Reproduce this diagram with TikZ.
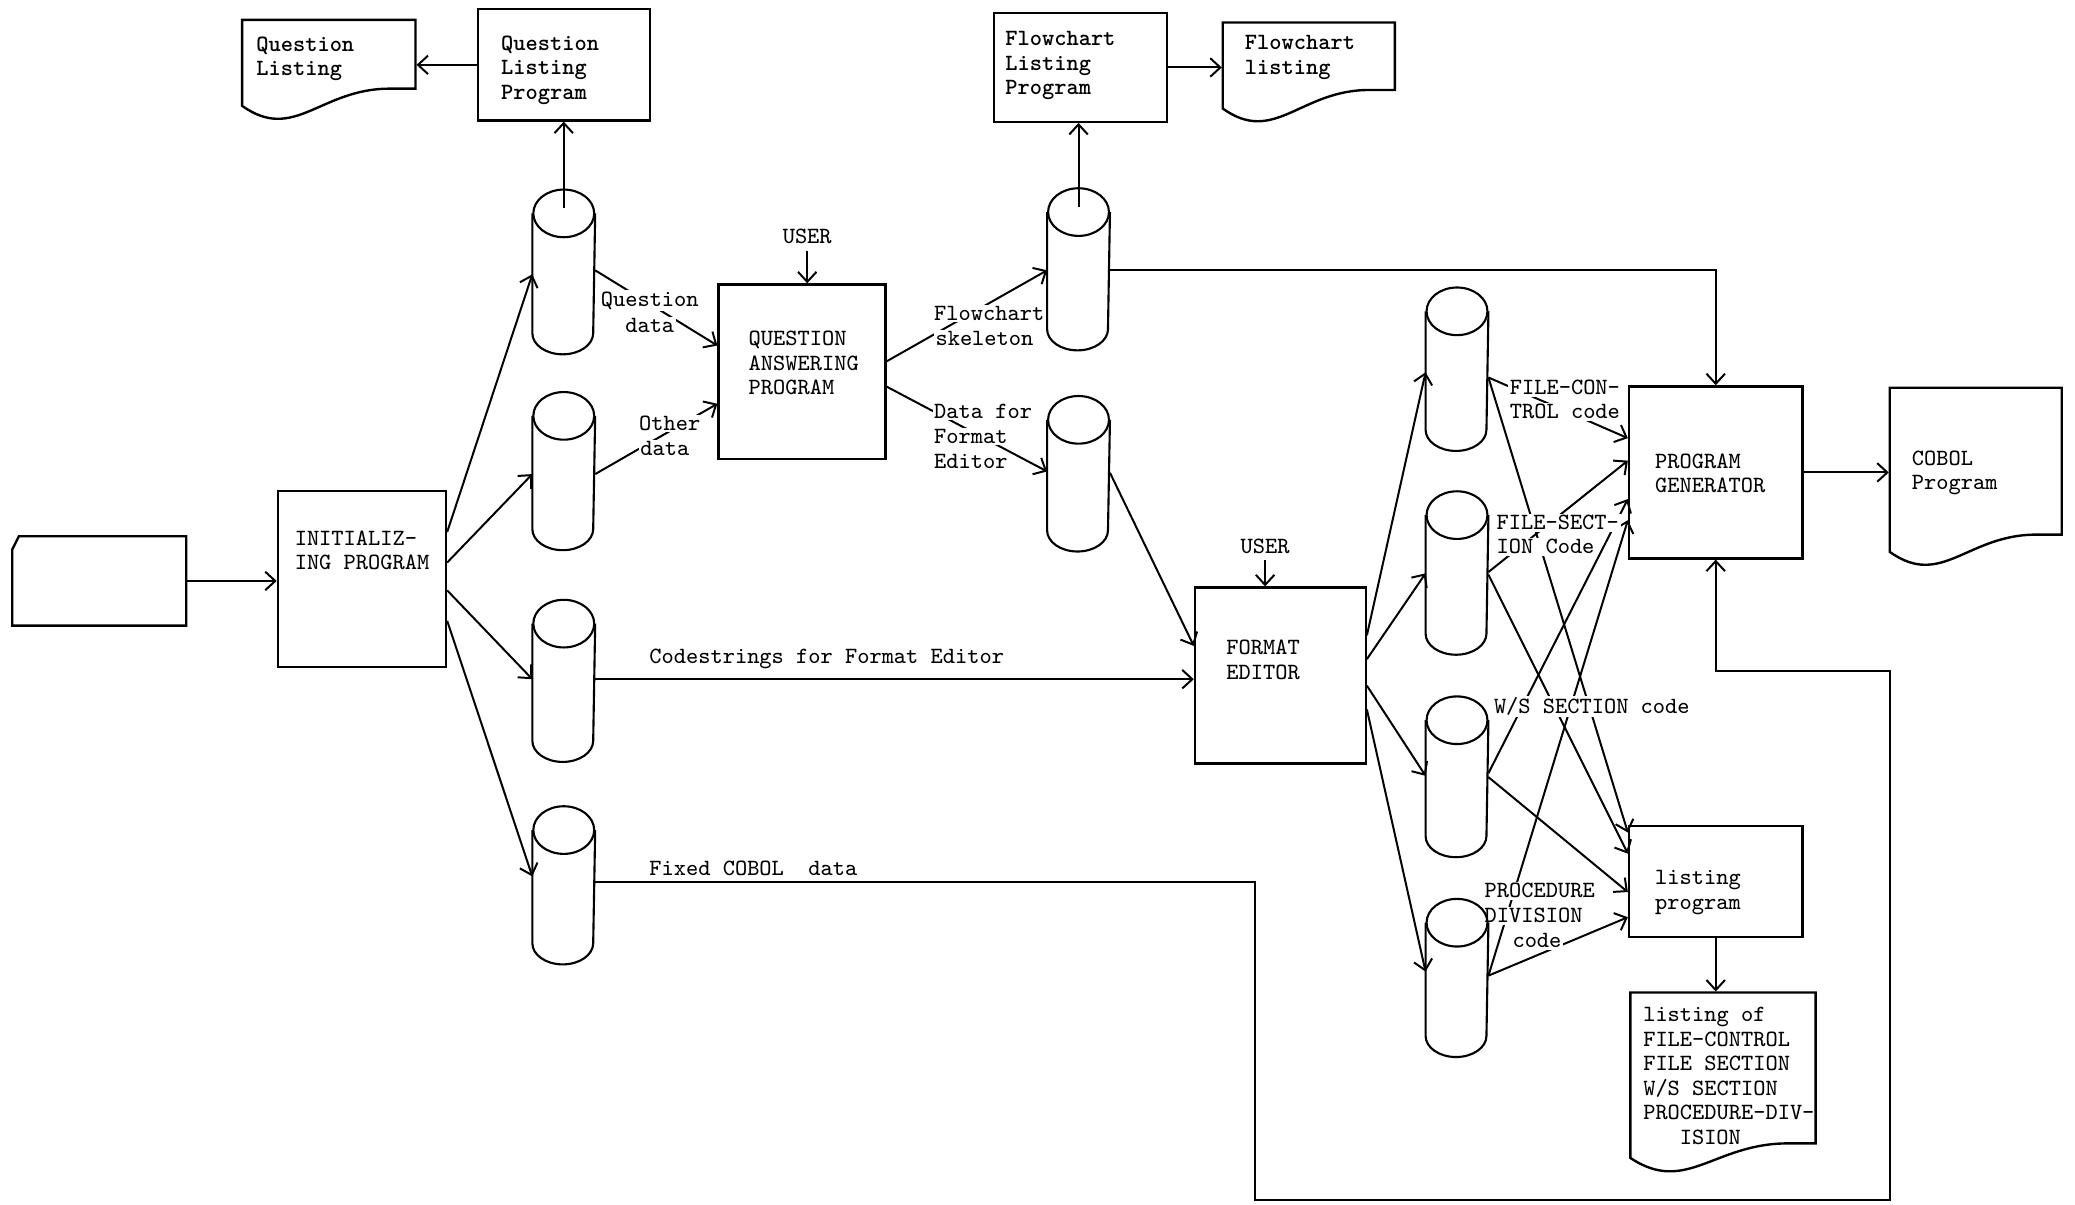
\documentclass[tikz,border=0pt]{standalone}
\usepackage{fontspec}
\usetikzlibrary{arrows.meta,calc}
\tikzset{
  boxst/.style={draw, line width=0.9pt, inner sep=0pt},
  hid/.style={inner sep=0pt, draw=none},
  txt/.style={font=\ttfamily\fontsize{8.8}{9.25}\selectfont, inner sep=0pt, align=left},
  btxt/.style={txt, font=\ttfamily\bfseries\fontsize{8.8}{9.25}\selectfont},
  lbl/.style={txt, fill=white, inner sep=0.6pt},
}
\newcommand\mkbox[5]{\node[boxst, minimum width={(#4-#2)*0.5pt}, minimum height={(#5-#3)*0.5pt}] (#1) at ({(#2+#4)/2},{(#3+#5)/2}) {};}
\newcommand\mkcyl[4]{\node[hid, minimum width=23pt, minimum height={(#4-#3)*0.5pt}] (#1) at (#2,{(#3+#4)/2}) {};}
\newcommand\drawcyl[1]{%
  \draw[line width=0.8pt] ($(#1.north west)+(0,18)$) -- ($(#1.south west)+(0,-16)$) arc[start angle=180,end angle=0,x radius=23,y radius=16] -- ($(#1.north east)+(0,18)$);
  \draw[line width=0.8pt] ($(#1.north)+(0,18)$) ellipse[x radius=23,y radius=18];}
\newcommand\mkdoc[6]{%
  \node[hid, minimum width={(#4-#2)*0.5pt}, minimum height={(#6-#3)*0.5pt}] (#1) at ({(#2+#4)/2},{(#3+#6)/2}) {};
  \draw[line width=0.9pt] (#2,#5) -- (#2,#3) -- (#4,#3) -- (#4,#6) -- ({#4-0.15*(#4-#2)},#6) .. controls ({#2+0.45*(#4-#2)},#6) and ({#2+0.3*(#4-#2)},{#5+28}) .. (#2,#5) -- cycle;}
\begin{document}
\begin{tikzpicture}[x=0.5pt, y=-0.5pt, line width=0.75pt, >={Straight Barb[length=3.8pt,width=7pt]}]
\fill[white] (0,0) rectangle (1568,910);
\useasboundingbox (0,0) rectangle (1568,910);
% boxes
\mkbox{qlp}{361}{7}{491}{91}
\mkbox{flp}{751}{10}{882}{92}
\mkbox{qap}{543}{215}{669}{347}
\mkbox{init}{210}{371}{337}{504}
\mkbox{fe}{903}{444}{1032}{577}
\mkbox{pg}{1231}{292}{1362}{422}
\mkbox{lp}{1231}{624}{1362}{708}
% documents
\mkdoc{ql}{183}{15}{314}{80}{67}
\mkdoc{fl}{924}{17}{1054}{82}{68}
\mkdoc{cob}{1428}{293}{1558}{417}{404}
\mkdoc{lst}{1232}{750}{1372}{875}{864}
% card
\node[hid, minimum width=65pt, minimum height=33pt] (card) at (75,439) {};
\draw[line width=0.9pt] (card.south west) -- ($(card.north west)+(0,10)$) -- ($(card.north west)+(5,0)$) -- (card.north east) -- (card.south east) -- cycle;
% cylinders (anchors)
\mkcyl{c1}{426}{144}{267}
\mkcyl{c2}{426}{297}{415}
\mkcyl{c3}{426}{454}{575}
\mkcyl{c4}{426}{610}{728}
\mkcyl{c5}{815}{143}{264}
\mkcyl{c6}{815}{300}{416}
\mkcyl{c7}{1101}{218}{340}
\mkcyl{c8}{1101}{372}{494}
\mkcyl{c9}{1101}{527}{647}
\mkcyl{c10}{1101}{680}{798}
% user nodes
\node[txt, inner sep=2pt] (user1) at (610,179) {USER};
\node[txt, inner sep=2pt] (user2) at (956,413) {USER};
% connectors
\draw[->] (card.east) -- (card.east -| init.west);
\draw[->] ($(init.north east)+(0,32)$) -- ($(c1.north west)+(0,64)$);
\draw[->] ($(init.north east)+(0,55)$) -- ($(c2.north west)+(0,62)$);
\draw[->] ($(init.north east)+(0,76)$) -- ($(c3.north west)+(0,60)$);
\draw[->] ($(init.north east)+(0,99)$) -- ($(c4.north west)+(0,53)$);
\draw[->] ($(c1.north)+(0,14)$) -- (c1.north |- qlp.south);
\draw[->] (qlp.west) -- (qlp.west -| ql.east);
\draw[->] ($(c1.north east)+(0,61)$) -- ($(qap.north west)+(0,47)$);
\draw[->] ($(c2.north east)+(0,62)$) -- ($(qap.north west)+(0,91)$);
\draw[->] (user1.south) -- (user1.south |- qap.north);
\draw[->] ($(qap.north east)+(0,59)$) -- ($(c5.north west)+(0,62)$);
\draw[->] ($(qap.north east)+(0,78)$) -- ($(c6.north west)+(0,57)$);
\draw[->] ($(c5.north)+(0,14)$) -- (c5.north |- flp.south);
\draw[->] (flp.east) -- (flp.east -| fl.west);
\draw[->] ($(c5.north east)+(0,62)$) -| (pg.north);
\draw[->] ($(c6.north east)+(0,58)$) -- ($(fe.north west)+(0,45)$);
\coordinate (cs0) at ($(c3.north east)+(0,60)$);
\draw[->] (cs0) -- (cs0 -| fe.west);
\draw[->] (user2.south) -- (user2.south |- fe.north);
\coordinate (fx0) at ($(c4.north east)+(0,57)$);
\coordinate (fxa) at (948,907);
\coordinate (fxb) at (1428,507);
\draw[->] (fx0) -| (fxa) -| (fxb) -| (pg.south);
\draw[->] (pg.east) -- (pg.east -| cob.west);
\draw[->] (lp.south) -- (lp.south |- lst.north);
\draw[->] ($(fe.north east)+(0,37)$) -- ($(c7.north west)+(0,64)$);
\draw[->] ($(fe.north east)+(0,55)$) -- ($(c8.north west)+(0,62)$);
\draw[->] ($(fe.north east)+(0,75)$) -- ($(c9.north west)+(0,60)$);
\draw[->] ($(fe.north east)+(0,93)$) -- ($(c10.north west)+(0,55)$);
\draw[->] ($(c7.north east)+(0,68)$) -- ($(pg.north west)+(0,40)$);
\draw[->] ($(c7.north east)+(0,68)$) -- ($(lp.north west)+(0,6)$);
\draw[->] ($(c8.north east)+(0,61)$) -- ($(pg.north west)+(0,57)$);
\draw[->] ($(c8.north east)+(0,63)$) -- ($(lp.north west)+(0,22)$);
\draw[->] ($(c9.north east)+(0,58)$) -- ($(pg.north west)+(0,86)$);
\draw[->] ($(c9.north east)+(0,61)$) -- ($(lp.north west)+(0,51)$);
\draw[->] ($(c10.north east)+(0,58)$) -- ($(pg.north west)+(0,102)$);
\draw[->] ($(c10.north east)+(0,58)$) -- ($(lp.north west)+(0,70)$);
% connector labels
\node[lbl] (qd1) at (491,227) {Question};
\node[lbl] (qd2) at (491,246) {data};
\node[lbl, anchor=west] (od1) at (481,320) {Other};
\node[lbl, anchor=west] (od2) at (482,339) {data};
\node[lbl, anchor=west] (fs1) at (704,237) {Flowchart};
\node[lbl, anchor=west] (fs2) at (705,256) {skeleton};
\node[lbl, anchor=west] (df1) at (704,311) {Data for};
\node[lbl, anchor=west] (df2) at (704,330) {Format};
\node[lbl, anchor=west] (df3) at (704,349) {Editor};
\node[txt, anchor=west] (cst) at (490,498) {Codestrings for Format Editor};
\node[txt, anchor=west] (fxt) at (490,656) {Fixed COBOL\ \ data};
\node[lbl, anchor=west] (fc1) at (1139,293) {FILE-CON-};
\node[lbl, anchor=west] (fc2) at (1139,311) {TROL code};
\node[lbl, anchor=west] (fsn1) at (1129,395) {FILE-SECT-};
\node[lbl, anchor=west] (fsn2) at (1129,413) {ION Code};
\node[lbl, anchor=west] (ws) at (1127,534) {W/S SECTION code};
\node[lbl, anchor=west] (pd1) at (1120,673) {PROCEDURE};
\node[lbl, anchor=west] (pd2) at (1120,692) {DIVISION};
\node[lbl, anchor=west] (pd3) at (1141,711) {code};
% cylinder outlines
\drawcyl{c1}\drawcyl{c2}\drawcyl{c3}\drawcyl{c4}\drawcyl{c5}
\drawcyl{c6}\drawcyl{c7}\drawcyl{c8}\drawcyl{c9}\drawcyl{c10}
% texts in boxes
\node[btxt, anchor=west] (tql) at (193,44.5) {Question\\Listing};
\node[btxt, anchor=west] (tqlp) at (378,53) {Question\\Listing\\Program};
\node[btxt, anchor=west] (tflp) at (759,49.5) {Flowchart\\Listing\\Program};
\node[btxt, anchor=west] (tfl) at (940,43.5) {Flowchart\\listing};
\node[txt, anchor=west] (tqap) at (565,274.5) {QUESTION\\ANSWERING\\PROGRAM};
\node[txt, anchor=west] (tinit) at (222,416) {INITIALIZ-\\ING PROGRAM};
\node[txt, anchor=west] (tfe) at (926,498.5) {FORMAT\\EDITOR};
\node[txt, anchor=west] (tpg) at (1250,357.5) {PROGRAM\\GENERATOR};
\node[txt, anchor=west] (tcob) at (1444,357.5) {COBOL\\Program};
\node[txt, anchor=west] (tlp) at (1250,674.5) {listing\\program};
\node[txt, anchor=west] (tlst) at (1241,813) {listing of\\FILE-CONTROL\\FILE SECTION\\W/S SECTION\\PROCEDURE-DIV-\\\hspace*{13.8pt}ISION};
\end{tikzpicture}
\end{document}
